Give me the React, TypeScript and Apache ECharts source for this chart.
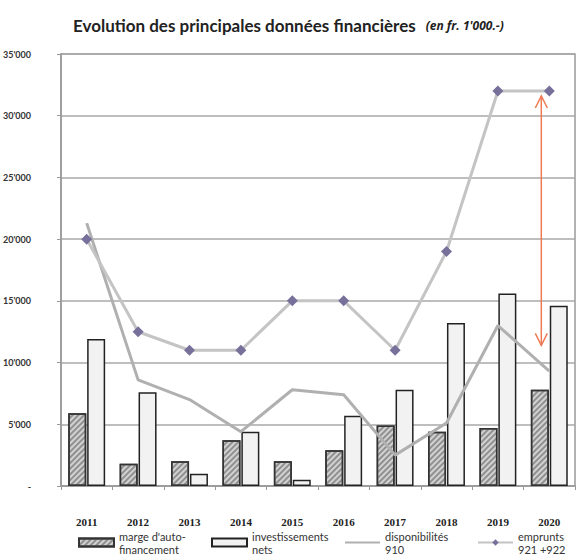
import React, { useEffect, useRef } from "react";
import * as echarts from "echarts";

const years = ["2011", "2012", "2013", "2014", "2015", "2016", "2017", "2018", "2019", "2020"];
const marge = [5900, 1800, 2000, 3700, 2000, 2900, 4900, 4400, 4700, 7800];
const investissements = [11900, 7600, 1000, 4400, 500, 5700, 7800, 13200, 15600, 14600];
const disponibilites = [21300, 8600, 7000, 4400, 7800, 7400, 2500, 5100, 13000, 9300];
const emprunts = [20000, 12500, 11000, 11000, 15000, 15000, 11000, 19000, 32000, 32000];
const arrow = [[9, 31600, 11400]];

const fmt = (v: number) => (v === 0 ? "-" : `${Math.round(v / 1000)}'000`);

export default function App() {
  const ref = useRef<HTMLDivElement>(null);
  useEffect(() => {
    const chart = echarts.init(ref.current!, null, { renderer: "svg" });
    chart.setOption({
      animation: false,
      backgroundColor: "#ffffff",
      title: {
        left: 68,
        top: 11,
        text: "{a|Evolution des principales données financières}  {b|(en fr. 1'000.-)}",
        textStyle: {
          rich: {
            a: { fontFamily: "Lato", fontWeight: "bold", fontSize: 17, color: "#222" },
            b: { fontFamily: "Open Sans", fontStyle: "italic", fontSize: 12, color: "#222" },
          },
        },
      },
      grid: { left: 60, right: 4, top: 54, bottom: 74, show: true, borderColor: "#999", borderWidth: 1.5 },
      legend: {
        left: 73,
        top: 518,
        width: 500,
        itemWidth: 35,
        itemHeight: 8,
        itemGap: 5,
        data: [
          { name: "marge d'auto-\nfinancement", icon: "rect" },
          { name: "investissements\nnets", icon: "rect" },
          { name: "disponibilités\n910", itemStyle: { opacity: 0 } },
          { name: "emprunts\n921 +922", textStyle: { width: 50 } },
        ],
        textStyle: {
          fontFamily: "Lato",
          fontSize: 11,
          color: "#333",
          lineHeight: 13,
          width: 87,
          padding: [13, 0, 0, 0],
        },
      },
      xAxis: {
        type: "category",
        data: years,
        axisLine: { lineStyle: { color: "#999", width: 1.5 } },
        axisTick: { show: true, length: 4, lineStyle: { color: "#999" } },
        axisLabel: { margin: 30, fontFamily: "Liberation Serif", fontWeight: "bold", fontSize: 11, color: "#222" },
      },
      yAxis: {
        type: "value",
        min: 0,
        max: 35000,
        interval: 5000,
        axisLine: { show: true, lineStyle: { color: "#999", width: 1.5 } },
        axisTick: { show: true, length: 4, lineStyle: { color: "#999" } },
        splitLine: { lineStyle: { color: "#a8a8a8", width: 1.5 } },
        axisLabel: {
          formatter: fmt,
          margin: 30,
          align: "right",
          fontFamily: "Lato",
          fontWeight: "bold",
          fontSize: 9,
          color: "#333",
        },
      },
      series: [
        {
          name: "marge d'auto-\nfinancement",
          type: "bar",
          data: marge,
          barWidth: 18,
          barGap: "5%",
          itemStyle: {
            color: "#d2d2d2",
            borderColor: "#333",
            borderWidth: 1.5,
            decal: {
              symbol: "rect",
              dashArrayX: [1, 0],
              dashArrayY: [1.5, 2],
              rotation: -Math.PI / 4,
              color: "rgba(100,100,100,0.6)",
            },
          },
        },
        {
          name: "investissements\nnets",
          type: "bar",
          data: investissements,
          barWidth: 18,
          barGap: "5%",
          itemStyle: { color: "#f2f2f2", borderColor: "#222", borderWidth: 1.5 },
        },
        {
          name: "disponibilités\n910",
          type: "line",
          data: disponibilites,
          symbol: "none",
          lineStyle: { color: "#b0b0b0", width: 3 },
          itemStyle: { color: "#b0b0b0" },
        },
        {
          name: "emprunts\n921 +922",
          type: "line",
          data: emprunts,
          symbol: "diamond",
          symbolSize: 11,
          lineStyle: { color: "#c4c4c4", width: 3 },
          itemStyle: { color: "#76709a" },
        },
        {
          name: "arrow",
          type: "custom",
          data: arrow,
          z: 10,
          renderItem: (params: any, api: any) => {
            const p1 = api.coord([api.value(0), api.value(1)]);
            const p2 = api.coord([api.value(0), api.value(2)]);
            const x = p1[0] - 8;
            const y1 = p1[1];
            const y2 = p2[1];
            const st = { stroke: "#f07a55", lineWidth: 1.5, fill: "none" };
            return {
              type: "group",
              children: [
                { type: "line", shape: { x1: x, y1, x2: x, y2 }, style: st },
                { type: "polyline", shape: { points: [[x - 6, y1 + 12], [x, y1], [x + 6, y1 + 12]] }, style: st },
                { type: "polyline", shape: { points: [[x - 6, y2 - 12], [x, y2], [x + 6, y2 - 12]] }, style: st },
              ],
            };
          },
        },
      ],
    });
    return () => chart.dispose();
  }, []);
  return <div ref={ref} style={{ width: 579, height: 560, position: "absolute", left: 0, top: 0 }} />;
}
